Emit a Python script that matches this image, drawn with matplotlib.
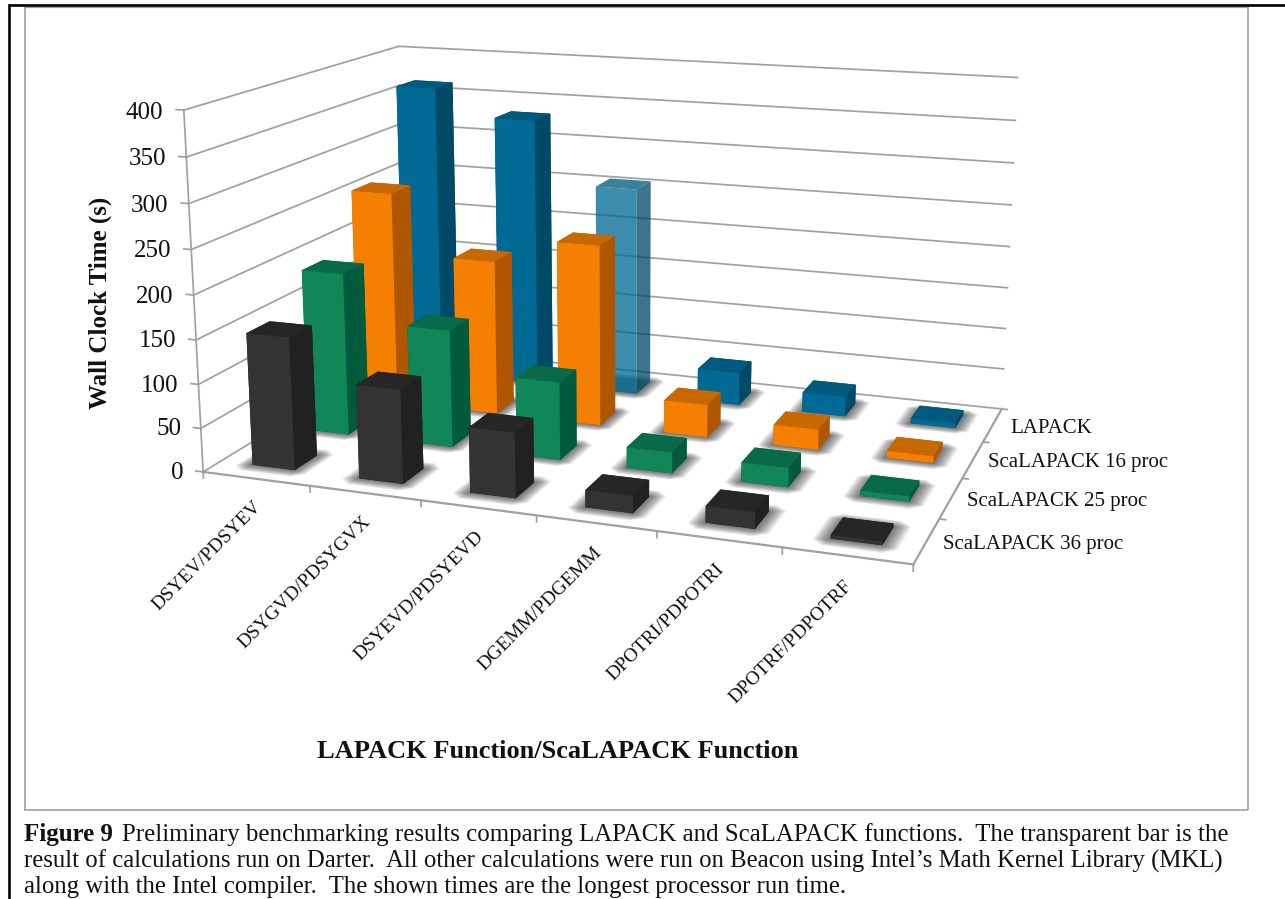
import matplotlib
matplotlib.use("Agg")
import matplotlib.pyplot as plt
from matplotlib.lines import Line2D
from mpl_toolkits.mplot3d import proj3d
from mpl_toolkits.mplot3d.art3d import Poly3DCollection

functions = ["DSYEV/PDSYEV", "DSYGVD/PDSYGVX", "DSYEVD/PDSYEVD",
             "DGEMM/PDGEMM", "DPOTRI/PDPOTRI", "DPOTRF/PDPOTRF"]
runs = ["ScaLAPACK 36 proc", "ScaLAPACK 25 proc", "ScaLAPACK 16 proc", "LAPACK"]

# wall clock seconds, one list per run, in function order
scalapack_36 = [151, 106, 73, 19, 18, 4]
scalapack_25 = [191, 137, 90, 24, 22, 6]
scalapack_16 = [258, 186, 216, 39, 24, 8]
lapack = [364, 332, 256, 40, 24, 6]
z_ticks = [0, 50, 100, 150, 200, 250, 300, 350, 400]

# face colours: front, side, top
black = ["#333333", "#212121", "#262626"]
green = ["#108659", "#005B3D", "#086A48"]
orange = ["#F57F00", "#AE5700", "#C76800"]
blue = ["#006A94", "#004A68", "#005A7E"]
GRID = "#A0A0A0"
INK = "#111111"
W, H = 1285, 899
SERIF = "Liberation Serif"
BAR = 0.4

fig = plt.figure(figsize=(W / 100, H / 100), dpi=100)
side = 883.5
ax = fig.add_axes([166.93 / W, 175.63 / H, side / W, side / H], projection="3d")
ax.set_axis_off()
ax.patch.set_visible(False)
ax.computed_zorder = False

ax.set_xlim(0, 6)
ax.set_ylim(0, 4)
ax.set_zlim(0, 400)
ax.view_init(elev=14.101, azim=-70.306, roll=0.0386)
ax.set_proj_type("persp", focal_length=0.42656)
ax.set_box_aspect((1.9639, 1.2876, 1.0))


def fx(px):
    return px / W


def fy(py):
    return 1 - py / H


def frame_line(x0, y0, x1, y1, color, lw):
    fig.add_artist(Line2D([fx(x0), fx(x1)], [fy(y0), fy(y1)], color=color, lw=lw,
                          solid_capstyle="butt"))


# text pinned to a 3d position but kept flat on the screen
def label3d(x, y, z, text, **kwargs):
    vx, vy, _ = proj3d.proj_transform(x, y, z, ax.get_proj())
    ax.text2D(vx, vy, text, transform=ax.transData, family=SERIF, color=INK, **kwargs)


def floor_shadow(x, y):
    # stacked translucent footprints with cut corners give the soft edge
    layers = 16
    for k in range(layers):
        t = 1 - k / layers
        gx, gy, cut = 0.13 * t, 0.16 * t, 0.1 * t
        x0, x1 = x - gx, x + BAR + gx
        y0, y1 = y - gy, y + BAR + gy
        poly = [(x0 + cut, y0), (x1 - cut, y0), (x1, y0 + cut), (x1, y1 - cut),
                (x1 - cut, y1), (x0 + cut, y1), (x0, y1 - cut), (x0, y0 + cut)]
        poly = [[(px, py, 0) for px, py in poly]]
        ax.add_collection3d(Poly3DCollection(poly, facecolors=(0, 0, 0, 0.045),
                                             edgecolors="none", zorder=2))


def draw_bar(x, y, value, faces, row, alpha=None):
    front, right, top = faces
    # bar3d face order: bottom, top, front, back, left, right
    if alpha is None:
        colors = [right, top, front, right, right, right]
    else:
        clear = (0, 0, 0, 0)
        colors = [clear, matplotlib.colors.to_rgba(top, alpha),
                  matplotlib.colors.to_rgba(front, alpha), clear, clear,
                  matplotlib.colors.to_rgba(right, alpha)]
    ax.bar3d(x, y, 0, BAR, BAR, value, color=colors, shade=False, zorder=10 + 3 - row)


# walls and floor edges
for z in z_ticks:
    ax.plot([0, 0], [0, 4], [z, z], color=GRID, lw=1.25, zorder=1)
    ax.plot([0, 6], [4, 4], [z, z], color=GRID, lw=1.25, zorder=1)
    ax.plot([-0.07, 0], [0, 0], [z, z], color=GRID, lw=1.25, zorder=1)
    label3d(-0.19, 0, z - 4, str(z), ha="right", va="center", fontsize=18)
ax.plot([0, 0], [0, 0], [0, 400], color=GRID, lw=1.25, zorder=1)
ax.plot([0, 6], [0, 0], [0, 0], color=GRID, lw=1.6, zorder=3)
ax.plot([6, 6], [0, 4], [0, 0], color=GRID, lw=1.6, zorder=3)

for i, name in enumerate(functions):
    ax.plot([i, i], [0, 0], [0, -7], color=GRID, lw=1.25, zorder=1)
    label3d(i + 0.52, 0, -29, name, rotation=45, rotation_mode="anchor", ha="right", va="center",
            fontsize=14)
ax.plot([6, 6], [0, 0], [0, -7], color=GRID, lw=1.25, zorder=1)
for j in range(1, 5):
    ax.plot([6, 6.05], [j, j], [0, 0], color=GRID, lw=1.25, zorder=1)

series = [(scalapack_36, black), (scalapack_25, green), (scalapack_16, orange), (lapack, blue)]
for row, (values, faces) in enumerate(series):
    for i in range(len(functions)):
        floor_shadow(i + 0.3, row + 0.3)
for row, (values, faces) in enumerate(series):
    for i, value in enumerate(values):
        # the Darter run is the see-through one
        alpha = 0.77 if row == 3 and i == 2 else None
        draw_bar(i + 0.3, row + 0.3, value, faces, row, alpha)

# run labels beside the depth axis
for name, px, py in zip(runs, [942.7, 966.7, 988, 1010], [544, 501.5, 462.5, 428.5]):
    fig.text(fx(px), fy(py), name, ha="left", va="center", family=SERIF, fontsize=15, color=INK)

fig.text(fx(558), fy(751), "LAPACK Function/ScaLAPACK Function", ha="center", va="center",
         family=SERIF, fontweight="bold", fontsize=19, color=INK)
fig.text(fx(100), fy(303), "Wall Clock Time (s)", ha="center", va="center", rotation=90,
         family=SERIF, fontweight="bold", fontsize=18, color=INK)

# chart border and page rules
frame_line(24.5, 6.5, 24.5, 810, "#999999", 1.1)
frame_line(24, 810, 1248, 810, "#999999", 1.1)
frame_line(1248, 6.5, 1248, 810, "#999999", 1.1)
frame_line(24, 7, 1248, 7, "#999999", 0.9)
frame_line(8, 5.2, W, 5.2, "black", 1.9)
frame_line(9.2, 4, 9.2, H, "black", 1.9)

# caption
fig.text(fx(24), fy(841), "Figure 9", family=SERIF, fontweight="bold", fontsize=18, va="baseline",
         color=INK)
fig.text(fx(122), fy(841), "Preliminary benchmarking results comparing LAPACK and ScaLAPACK functions.  "
         "The transparent bar is the", family=SERIF, fontsize=17.9, va="baseline", color=INK)
fig.text(fx(24), fy(867.5), "result of calculations run on Darter.  All other calculations were run on "
         "Beacon using Intel\u2019s Math Kernel Library (MKL)", family=SERIF, fontsize=17.85, va="baseline",
         color=INK)
fig.text(fx(24), fy(893), "along with the Intel compiler.  The shown times are the longest processor "
         "run time.", family=SERIF, fontsize=17.85, va="baseline", color=INK)

fig.savefig("out.png", dpi=100)
